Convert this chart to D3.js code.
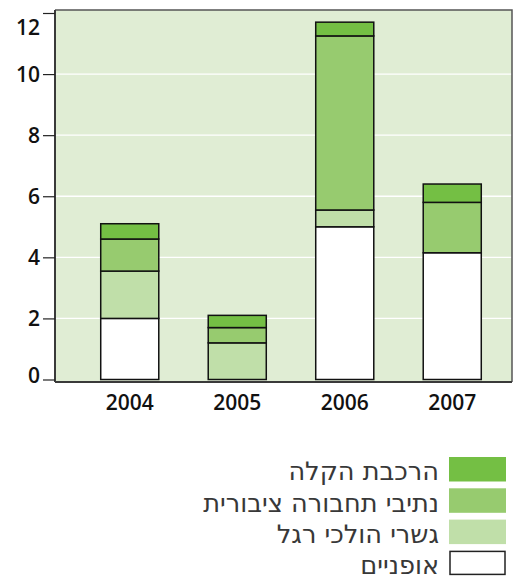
<!DOCTYPE html>
<html><head><meta charset="utf-8">
<script src="https://cdn.jsdelivr.net/npm/d3@7"></script>
<style>
html,body{margin:0;padding:0;background:#fff;}
svg{display:block;}
</style></head>
<body>
<svg id="c" width="518" height="577"></svg>
<script>
const years = ["2004","2005","2006","2007"];
const seriesNames = ["אופניים","גשרי הולכי רגל","נתיבי תחבורה ציבורית","הרכבת הקלה"];
const bicycles   = [2.0, 0,   5.0,  4.15];
const footBridges= [1.55,1.2, 0.55, 0];
const busLanes   = [1.05,0.5, 5.7,  1.65];
const lightRail  = [0.5, 0.4, 0.45, 0.6];
const yTicks = [0,2,4,6,8,10,12];
const colors = ["#ffffff","#c0dfa9","#97cb6f","#74bf44"];

const svg = d3.select("#c");
const L=55, R=512, T=10, B=382;
const x = d3.scaleBand().domain(years).range([76,506]).paddingInner(0.46).paddingOuter(0.23);
const y = d3.scaleLinear().domain([0,12]).range([379.5,13]);

svg.append("rect").attr("x",L).attr("y",T).attr("width",R-L).attr("height",B-T).attr("fill","#e0edd4");
svg.append("g").selectAll("line").data(yTicks.filter(t=>t>0&&t<12)).join("line")
  .attr("x1",L).attr("x2",R).attr("y1",d=>y(d)).attr("y2",d=>y(d))
  .attr("stroke","#fff").attr("stroke-width",1.3);

const table = years.map((yr,i)=>({year:yr, s0:bicycles[i], s1:footBridges[i], s2:busLanes[i], s3:lightRail[i]}));
const stack = d3.stack().keys(["s0","s1","s2","s3"])(table);
svg.append("g").selectAll("g").data(stack).join("g")
  .attr("fill",(d,i)=>colors[i])
  .selectAll("rect").data(d=>d).join("rect")
  .attr("x",d=>x(d.data.year)).attr("width",x.bandwidth())
  .attr("y",d=>y(d[1])).attr("height",d=>y(d[0])-y(d[1]))
  .attr("stroke","#111").attr("stroke-width",1.5);

svg.append("path").attr("d",`M${L},${T}H${R}V${B}`).attr("fill","none").attr("stroke","#555").attr("stroke-width",1.5);

const ya = svg.append("g").attr("transform",`translate(${L},0)`)
  .call(d3.axisLeft(y).tickValues(yTicks).tickSize(12).tickPadding(3).tickFormat(d3.format("d")));
ya.select(".domain").attr("stroke","#3a3a3a").attr("stroke-width",2).attr("d",`M0,${T}V${B}`);
ya.selectAll(".tick line").attr("stroke","#222").attr("stroke-width",1.2);
ya.selectAll(".tick text").attr("font-family","'Open Sans','Noto Sans',sans-serif")
  .attr("font-weight",600).attr("font-size",21).attr("fill","#111")
  .attr("dy",d=>d===12?"1.0em":(d===0?"0.15em":"0.35em"));

svg.append("line").attr("x1",L).attr("x2",R).attr("y1",B).attr("y2",B).attr("stroke","#3a3a3a").attr("stroke-width",2);
svg.append("g").selectAll("text").data(years).join("text")
  .attr("x",d=>x(d)+x.bandwidth()/2).attr("y",410).attr("text-anchor","middle")
  .attr("font-family","'Open Sans','Noto Sans',sans-serif").attr("font-weight",600)
  .attr("font-size",21).attr("fill","#111").text(d=>d);

const lg = svg.append("g");
const order = [3,2,1,0];
order.forEach((si,k)=>{
  const yy = 457 + k*31.3;
  lg.append("rect").attr("x", si===0?450:449).attr("y", si===0?yy+0.5:yy)
    .attr("width", si===0?55:57).attr("height", si===0?23:24.5)
    .attr("fill",colors[si]).attr("stroke",si===0?"#222":"none").attr("stroke-width",1.5);
  lg.append("text").attr("x",439).attr("y",yy+23.3).attr("text-anchor","end")
    .attr("font-family","'DejaVu Sans',sans-serif")
    .attr("font-size",25.6).attr("fill","#383838").text(seriesNames[si]);
});
</script>
</body></html>
